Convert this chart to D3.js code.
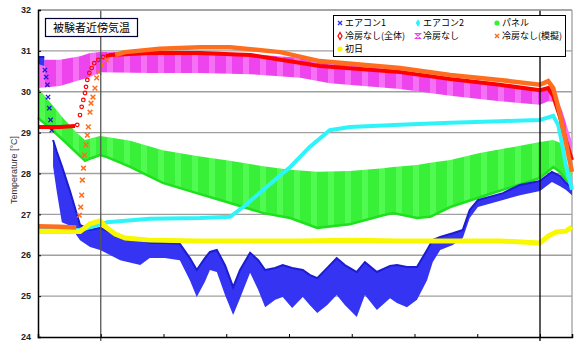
<!DOCTYPE html>
<html>
<head>
<meta charset="utf-8">
<script src="https://cdn.jsdelivr.net/npm/d3@7"></script>
<style>
  body { margin: 0; background: #fff; }
  svg { display: block; }
</style>
</head>
<body>
<svg id="chart" width="574" height="342"></svg>
<script>
// x: elapsed hours, y: temperature [°C]
const tickHours = [0, 1, 2, 3, 4, 5, 6, 7, 8];
const refHours = [1, 8];
const tempTicks = [24, 25, 26, 27, 28, 29, 30, 31, 32];

// エアコン1 (band: hi / lo), null = gap
const ac1X = [0, 0.10, 0.17, 0.24, 0.30, 0.38, 0.51, 0.67, 0.83, 0.99, 1.31, 1.63, 1.78, 2.02, 2.26, 2.42, 2.53, 2.66, 2.74, 2.85, 2.98, 3.11, 3.22, 3.38, 3.51, 3.62, 3.78, 3.90, 4.05, 4.22, 4.33, 4.45, 4.61, 4.76, 4.89, 5.08, 5.21, 5.40, 5.61, 5.72, 5.88, 6.04, 6.20, 6.29, 6.41, 6.61, 6.77, 6.88, 7.01, 7.41, 7.68, 8.00, 8.19, 8.32, 8.41, 8.51];
const ac1Hi = [30.85, 30.85, null, 28.82, 28.53, 28.18, 27.57, 26.74, 26.62, 26.67, 26.45, 26.37, 26.30, 26.30, 26.28, 25.93, 25.64, 25.93, 26.08, 26.13, 25.76, 25.22, 25.64, 26.06, 25.88, 25.64, 25.69, 25.76, 25.69, 25.64, 25.52, 25.44, 25.69, 25.93, 25.76, 25.59, 25.83, 25.59, 25.74, 25.76, 25.71, 25.71, 26.13, 26.37, 26.45, 26.54, 26.62, 27.11, 27.35, 27.52, 27.72, 27.82, 28.04, 27.94, 27.77, 27.65];
const ac1Lo = [30.68, 30.63, null, 28.18, 27.55, 26.81, 26.72, 26.37, 26.20, 26.13, 25.88, 25.76, 25.93, 25.93, 25.88, 25.39, 24.98, 25.35, 25.64, 25.59, 25.03, 24.54, 24.95, 25.57, 25.15, 24.73, 24.91, 24.98, 24.71, 24.98, 24.78, 24.59, 24.78, 25.03, 24.78, 24.49, 25.03, 24.66, 24.95, 24.83, 24.73, 24.91, 25.39, 25.83, 26.13, 26.25, 26.42, 26.91, 27.18, 27.35, 27.47, 27.57, 27.79, 27.69, 27.60, 27.47];
const ac1FallX = [0.11, 0.13, 0.15, 0.16, 0.18, 0.20, 0.22];
const ac1FallT = [30.53, 30.36, 30.17, 29.87, 29.60, 29.31, 29.06];

// エアコン2
const ac2X = [0, 0.67, 0.91, 1.10, 1.78, 2.58, 3.06, 3.27, 3.59, 4.02, 4.33, 4.65, 4.97, 5.77, 6.57, 7.36, 8.00, 8.21, 8.29, 8.35, 8.41, 8.51];
const ac2T = [26.62, 26.62, 26.72, 26.81, 26.89, 26.91, 26.94, 27.18, 27.60, 28.16, 28.65, 29.06, 29.14, 29.19, 29.24, 29.28, 29.31, 29.41, 29.19, 28.75, 28.21, 27.60];

// パネル (band)
const panelX = [0, 0.19, 0.40, 0.62, 0.75, 0.86, 0.99, 1.10, 1.47, 1.99, 2.53, 3.06, 3.59, 4.02, 4.45, 4.97, 5.50, 5.66, 6.04, 6.25, 6.57, 7.04, 8.00, 8.21, 8.32, 8.41, 8.51];
const panelHi = [30.09, 29.75, 29.36, 28.99, 28.82, 28.87, 28.92, 28.89, 28.80, 28.57, 28.43, 28.31, 28.18, 28.09, 28.04, 28.06, 28.13, 28.16, 28.21, 28.26, 28.33, 28.50, 28.77, 28.82, 28.75, 28.33, 27.96];
const panelLo = [29.36, 29.11, 28.82, 28.50, 28.31, 28.38, 28.45, 28.40, 28.16, 27.77, 27.52, 27.28, 27.03, 26.91, 26.67, 26.76, 26.98, 27.03, 26.91, 26.94, 27.18, 27.42, 27.89, 28.16, 28.04, 27.84, 27.72];

// 冷房なし(全体)
const allX = [0, 0.35, 0.59, 0.80, 1.08, 1.15, 1.78, 2.58, 3.38, 4.49, 5.77, 6.57, 7.36, 8.00, 8.13, 8.21, 8.32, 8.41, 8.51];
const allT = [29.14, 29.14, 29.16, null, 30.87, 30.90, 30.95, 30.95, 30.90, 30.63, 30.48, 30.31, 30.17, 30.04, 30.09, 29.90, 29.38, 28.82, 28.33];
const allRiseX = [0.626, 0.669, 0.696, 0.722, 0.749, 0.765, 0.786, 0.818, 0.856, 0.897, 0.961, 1.036];
const allRiseT = [29.19, 29.43, 29.63, 29.80, 29.97, 30.12, 30.29, 30.46, 30.58, 30.70, 30.78, 30.85];

// 冷房なし (band)
const noAcX = [0, 0.35, 0.67, 0.83, 0.99, 1.78, 2.58, 3.38, 4.18, 4.65, 5.77, 6.57, 7.36, 8.00, 8.13, 8.24, 8.35, 8.45, 8.51];
const noAcHi = [30.78, 30.78, 30.87, 30.95, 30.97, 30.97, 30.97, 30.92, 30.83, 30.73, 30.53, 30.34, 30.19, 30.07, 30.12, 29.97, 29.55, 29.06, 28.77];
const noAcLo = [30.09, 30.14, 30.29, 30.36, 30.48, 30.46, 30.46, 30.43, 30.34, 30.21, 30.07, 29.90, 29.77, 29.68, 29.77, 29.75, 29.19, 28.70, 28.48];

// 冷房なし(模擬)
const simX = [0, 0.35, 0.61, 0.9, 1.23, 1.39, 1.94, 2.58, 3.06, 3.86, 4.49, 5.77, 6.57, 7.36, 8.00, 8.13, 8.21, 8.27, 8.33, 8.40, 8.46, 8.51];
const simT = [26.71, 26.70, 26.68, null, 30.90, 30.97, 31.05, 31.09, 31.09, 30.97, 30.75, 30.58, 30.41, 30.29, 30.17, 30.26, 30.09, 29.75, 29.36, 28.87, 28.40, 28.04];
const simRiseX = [0.658, 0.680, 0.696, 0.706, 0.725, 0.738, 0.765, 0.786, 0.802, 0.829, 0.845, 0.876, 0.908, 0.935, 0.972, 1.015, 1.095];
const simRiseT = [26.98, 27.18, 27.47, 27.84, 28.13, 28.45, 28.70, 28.94, 29.14, 29.50, 29.72, 29.87, 30.09, 30.34, 30.48, 30.65, 30.78];

// 初日
const day1X = [0, 0.67, 0.83, 0.99, 1.08, 1.23, 1.39, 1.78, 2.58, 3.38, 4.18, 4.97, 5.77, 6.57, 7.36, 8.00, 8.13, 8.26, 8.41, 8.51];
const day1T = [26.58, 26.58, 26.77, 26.84, 26.69, 26.52, 26.42, 26.37, 26.35, 26.35, 26.35, 26.37, 26.35, 26.35, 26.35, 26.30, 26.47, 26.57, 26.59, 26.69];

const C = {
  blue: '#3434f2', blueDark: '#1c1cd0',
  cyan: '#2ef4fa', green: '#38f038', greenLight: '#50fa50', greenDark: '#1ee01e',
  red: '#ff0000', magenta: '#ee44ee', magentaLight: '#f670f6',
  orange: '#ff6e1e', yellow: '#f8f800'
};

const svg = d3.select('#chart');
const pL = 38, pR = 572, pT = 10, pB = 337;

const x = d3.scaleLinear().domain([0, 8.51]).range([pL, pR]);
const y = d3.scaleLinear().domain([24, 32]).range([pB, pT]);

const band = (xs, hi, lo) => xs.map((t, i) => ({ t, hi: hi[i], lo: lo[i] }));
const pts = (xs, ts) => xs.map((t, i) => ({ t, v: ts[i] }));

// striped fills (dense marker look)
const defs = svg.append('defs');
function stripes(id, base, light) {
  const p = defs.append('pattern').attr('id', id).attr('patternUnits', 'userSpaceOnUse')
    .attr('width', 17).attr('height', 10);
  p.append('rect').attr('width', 17).attr('height', 10).attr('fill', base);
  p.append('rect').attr('x', 5).attr('width', 6).attr('height', 10).attr('fill', light);
}
stripes('stripe-green', C.green, C.greenLight);
stripes('stripe-magenta', C.magenta, C.magentaLight);

// grid
svg.append('g').selectAll('line').data(tempTicks.slice(1)).join('line')
  .attr('x1', pL).attr('x2', pR)
  .attr('y1', d => y(d)).attr('y2', d => y(d))
  .attr('stroke', '#a0a0a0').attr('stroke-width', 1.3);
svg.append('line').attr('x1', pR).attr('x2', pR).attr('y1', pT).attr('y2', pB)
  .attr('stroke', '#a0a0a0').attr('stroke-width', 1.3);

const area = d3.area().defined(d => d.hi != null)
  .x(d => x(d.t)).y0(d => y(d.lo)).y1(d => y(d.hi));
const lineHi = d3.line().defined(d => d.hi != null).x(d => x(d.t)).y(d => y(d.hi));
const lineLo = d3.line().defined(d => d.lo != null).x(d => x(d.t)).y(d => y(d.lo));
const line = d3.line().defined(d => d.v != null).x(d => x(d.t)).y(d => y(d.v));

const plot = svg.append('g');

// パネル
const panel = band(panelX, panelHi, panelLo);
plot.append('path').datum(panel).attr('d', area).attr('fill', 'url(#stripe-green)');
plot.append('path').datum(panel).attr('d', lineLo).attr('fill', 'none')
  .attr('stroke', C.greenDark).attr('stroke-width', 2.5);

// 冷房なし
const noAc = band(noAcX, noAcHi, noAcLo);
plot.append('path').datum(noAc).attr('d', area).attr('fill', 'url(#stripe-magenta)');

// エアコン1
const ac1 = band(ac1X, ac1Hi, ac1Lo);
plot.append('path').datum(ac1).attr('d', area).attr('fill', C.blue);
plot.append('path').datum(ac1).attr('d', lineHi).attr('fill', 'none')
  .attr('stroke', C.blueDark).attr('stroke-width', 2);
const times = d3.symbolTimes || d3.symbolX;
plot.append('g').selectAll('path').data(pts(ac1FallX, ac1FallT)).join('path')
  .attr('transform', d => `translate(${x(d.t)},${y(d.v)})`)
  .attr('d', d3.symbol(times, 14)).attr('fill', 'none')
  .attr('stroke', C.blueDark).attr('stroke-width', 1.3);

// エアコン2
plot.append('path').datum(pts(ac2X, ac2T)).attr('d', line).attr('fill', 'none')
  .attr('stroke', C.cyan).attr('stroke-width', 4);

// 初日
plot.append('path').datum(pts(day1X, day1T)).attr('d', line).attr('fill', 'none')
  .attr('stroke', C.yellow).attr('stroke-width', 5);

// 冷房なし(全体)
plot.append('path').datum(pts(allX, allT)).attr('d', line).attr('fill', 'none')
  .attr('stroke', C.red).attr('stroke-width', 4);
plot.append('g').selectAll('circle').data(pts(allRiseX, allRiseT)).join('circle')
  .attr('cx', d => x(d.t)).attr('cy', d => y(d.v)).attr('r', 1.8)
  .attr('fill', 'none').attr('stroke', C.red).attr('stroke-width', 1.2);

// 冷房なし(模擬)
plot.append('path').datum(pts(simX, simT)).attr('d', line).attr('fill', 'none')
  .attr('stroke', C.orange).attr('stroke-width', 4.5);
plot.append('g').selectAll('path').data(pts(simRiseX, simRiseT)).join('path')
  .attr('transform', d => `translate(${x(d.t)},${y(d.v)})`)
  .attr('d', d3.symbol(times, 16)).attr('fill', 'none')
  .attr('stroke', C.orange).attr('stroke-width', 1.5);

// reference verticals
svg.append('g').selectAll('line').data(refHours).join('line')
  .attr('x1', d => x(d)).attr('x2', d => x(d))
  .attr('y1', pT).attr('y2', pB + 4)
  .attr('stroke', d => d === 8 ? '#000' : '#555').attr('stroke-width', 1.3);

// axes frame
svg.append('line').attr('x1', pL).attr('x2', pR).attr('y1', pT).attr('y2', pT)
  .attr('stroke', '#a0a0a0').attr('stroke-width', 1.3);
svg.append('g').attr('transform', `translate(${pL},0)`)
  .call(d3.axisRight(y).tickValues(tempTicks).tickSize(3).tickFormat(''))
  .call(g => g.select('.domain').attr('stroke', '#000').attr('stroke-width', 1.5));
svg.append('g').attr('transform', `translate(0,${pB})`)
  .call(d3.axisTop(x).tickValues(tickHours).tickSize(3).tickFormat(''))
  .call(g => g.select('.domain').attr('stroke', '#000').attr('stroke-width', 1.5));

svg.append('g').selectAll('text').data(tempTicks).join('text')
  .attr('x', 31).attr('y', d => y(d)).attr('dy', '0.35em')
  .attr('text-anchor', 'end')
  .style('font', 'bold 9px "Liberation Sans", Arial, sans-serif')
  .attr('fill', '#222')
  .text(d => d);

svg.append('text')
  .attr('transform', `translate(17,170) rotate(-90)`)
  .attr('text-anchor', 'middle')
  .style('font', '9px "Liberation Sans", Arial, sans-serif')
  .attr('fill', '#333')
  .text('Temperature [°C]');

// title box
svg.append('rect').attr('x', 45.5).attr('y', 18.5).attr('width', 92).attr('height', 18)
  .attr('fill', '#fff').attr('stroke', '#000030').attr('stroke-width', 1.2);
svg.append('text').attr('x', 91.5).attr('y', 28).attr('dy', '0.35em')
  .attr('text-anchor', 'middle')
  .style('font', '11px "Noto Sans CJK JP", sans-serif')
  .text('被験者近傍気温');

// legend
const legendItems = [
  { name: 'エアコン1', color: C.blue, mark: 'x' },
  { name: 'エアコン2', color: C.cyan, mark: 'diamond' },
  { name: 'パネル', color: C.green, mark: 'dot' },
  { name: '冷房なし(全体)', color: C.red, mark: 'odiamond' },
  { name: '冷房なし', color: C.magenta, mark: 'hourglass' },
  { name: '冷房なし(模擬)', color: C.orange, mark: 'x' },
  { name: '初日', color: C.yellow, mark: 'dot' }
];
const legendCols = [340, 418, 497];
const legendRows = [23, 36, 49];

svg.append('rect').attr('x', 333.5).attr('y', 15.5).attr('width', 232).attr('height', 41)
  .attr('fill', '#fff').attr('stroke', '#000').attr('stroke-width', 1);

const lg = svg.append('g').selectAll('g').data(legendItems).join('g')
  .attr('transform', (d, i) => `translate(${legendCols[i % 3]},${legendRows[Math.floor(i / 3)]})`);
lg.each(function (d) {
  const g = d3.select(this);
  if (d.mark === 'x') {
    g.append('path').attr('d', d3.symbol(times, 12)).attr('fill', 'none')
      .attr('stroke', d.color).attr('stroke-width', 1.4);
  } else if (d.mark === 'diamond') {
    g.append('path').attr('d', d3.symbol(d3.symbolDiamond, 18)).attr('fill', d.color);
  } else if (d.mark === 'odiamond') {
    g.append('path').attr('d', d3.symbol(d3.symbolDiamond, 14)).attr('fill', 'none')
      .attr('stroke', d.color).attr('stroke-width', 1.2);
  } else if (d.mark === 'hourglass') {
    g.append('path').attr('d', 'M-2.5,-2.5H2.5L-2.5,2.5H2.5Z').attr('fill', 'none')
      .attr('stroke', d.color).attr('stroke-width', 1.2);
  } else {
    g.append('circle').attr('r', 2.6).attr('fill', d.color);
  }
  g.append('text').attr('x', 5).attr('dy', '0.35em')
    .style('font', '9px "Noto Sans CJK JP", sans-serif')
    .text(d.name);
});
</script>
</body>
</html>
